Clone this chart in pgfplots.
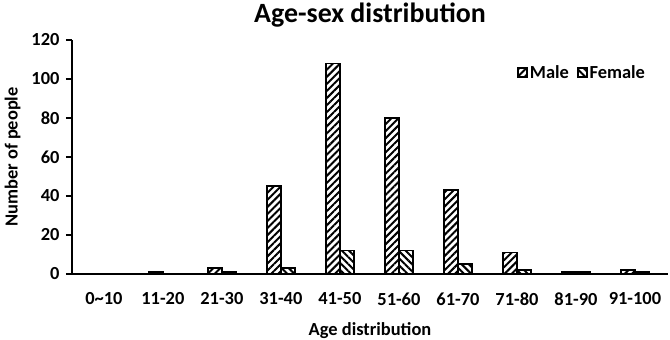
\documentclass[border=0pt]{standalone}
\usepackage{pgfplots}
\pgfplotsset{compat=1.18}
\usepackage{fontspec}
\setmainfont{Carlito}
\usetikzlibrary{patterns.meta}
\begin{document}
\begin{tikzpicture}
\begin{axis}[
  name=ax,
  scale only axis,
  width=596bp, height=234bp,
  ybar=0pt, bar width=14bp,
  xmin=-0.54, xmax=9.56,
  ymin=0, ymax=120,
  ytick={0,20,...,120},
  xtick={0,...,9},
  xticklabels={0\textasciitilde10,11-20,21-30,31-40,41-50,51-60,61-70,71-80,81-90,91-100},
  axis x line*=bottom, axis y line*=left,
  axis line style={line width=1.8pt, -},
  x tick style={draw=none},
  y tick style={line width=1.4pt, black},
  tick align=outside, major tick length=6bp,
  ticklabel style={font=\fontsize{18.5}{18.5}\selectfont\bfseries},
  xticklabel style={yshift=-9bp},
  yticklabel style={xshift=-3bp},
  /pgf/number format/assume math mode=true,
  title={Age-sex distribution},
  title style={font=\fontsize{28}{28}\selectfont\bfseries, yshift=3bp},
  xlabel={Age distribution},
  ylabel={Number of people},
  label style={font=\fontsize{18.5}{18.5}\selectfont\bfseries},
  xlabel style={yshift=-10bp},
  ylabel style={yshift=4bp},
  legend style={draw=none, at={(0.965,0.86)}, anchor=east, legend columns=-1,
    font=\fontsize{18.5}{18.5}\selectfont\bfseries, inner sep=0pt,
    /tikz/every even column/.append style={column sep=6bp}},
  legend image code/.code={\draw[#1, line width=1.6pt] (0bp,-4.5bp) rectangle (9bp,4.5bp);},
]
\addplot[draw=black, line width=1.7pt, pattern={Lines[angle=45, distance=5bp, line width=2bp]}] coordinates {
(0,0) (1,1) (2,3) (3,45) (4,108) (5,80) (6,43) (7,11) (8,1) (9,2)};
\addplot[draw=black, line width=1.7pt, pattern={Lines[angle=-45, distance=5bp, line width=2bp]}] coordinates {
(0,0) (1,0) (2,1) (3,3) (4,12) (5,12) (6,5) (7,2) (8,1) (9,1)};
\legend{Male,Female}
\end{axis}
\pgfresetboundingbox
\path ([shift={(-72bp,-66bp)}]ax.south west) rectangle ([shift={(2bp,40bp)}]ax.north east);
\end{tikzpicture}
\end{document}
